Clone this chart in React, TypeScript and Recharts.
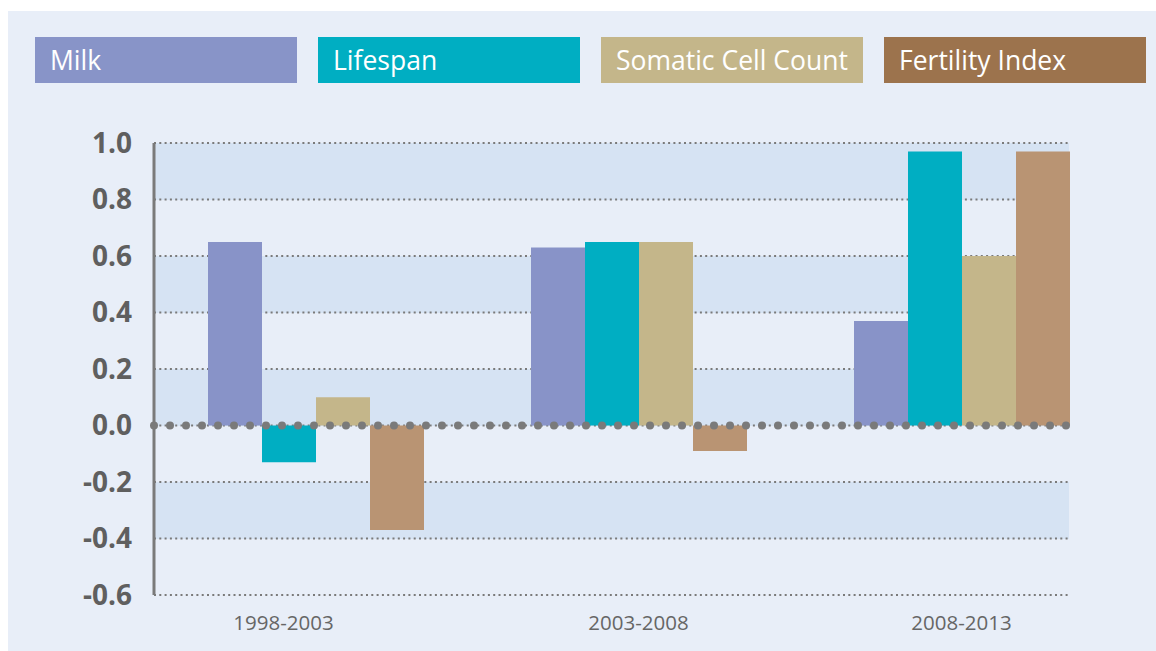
import React from 'react';
import { BarChart, Bar, XAxis, YAxis, CartesianGrid, ReferenceLine } from 'recharts';

const periods = ['1998-2003', '2003-2008', '2008-2013'];
const milk = [0.65, 0.63, 0.37];
const lifespan = [-0.13, 0.65, 0.97];
const somaticCellCount = [0.1, 0.65, 0.6];
const fertilityIndex = [-0.37, -0.09, 0.97];
const seriesNames = ['Milk', 'Lifespan', 'Somatic Cell Count', 'Fertility Index'];
const yTicks = [-0.6, -0.4, -0.2, 0, 0.2, 0.4, 0.6, 0.8, 1.0];

const barColors = ['#8893c8', '#00aec2', '#c4b68a', '#b99473'];
const legendColors = ['#8894c8', '#00aec2', '#c4b68a', '#9c734d'];
const keys = ['milk', 'lifespan', 'somatic', 'fertility'];

const data = periods.map((period, i) => ({
  period,
  milk: milk[i],
  lifespan: lifespan[i],
  somatic: somaticCellCount[i],
  fertility: fertilityIndex[i],
}));

const FONT = '"Open Sans", "Noto Sans", sans-serif';

// first label sits a bit left of its bar group in the original
const PeriodTick = (props: any) => {
  const { x, y, payload, index } = props;
  const shift = index === 0 ? -32 : 0;
  return (
    <text
      x={x + shift}
      y={y}
      dy={27}
      textAnchor="middle"
      fill="#666666"
      fontFamily={FONT}
      fontSize={20.5}
    >
      {payload.value}
    </text>
  );
};

export default function App() {
  return (
    <div
      style={{
        position: 'absolute',
        left: 8,
        top: 11,
        width: 1148,
        height: 640,
        background: '#e8eef8',
        fontFamily: FONT,
      }}
    >
      <div style={{ position: 'absolute', left: 27, top: 26, display: 'flex', gap: 21 }}>
        {seriesNames.map((name, i) => (
          <div
            key={name}
            style={{
              width: 262,
              height: 46,
              lineHeight: '46px',
              background: legendColors[i],
              color: '#ffffff',
              fontSize: 26.5,
              paddingLeft: 15,
              boxSizing: 'border-box',
            }}
          >
            {name}
          </div>
        ))}
      </div>
      <BarChart
        width={1148}
        height={640}
        data={data}
        barGap={0}
        barSize={54}
        margin={{ top: 132, right: 87, bottom: 26, left: 0 }}
      >
        <CartesianGrid
          vertical={false}
          stroke="#7a7a7a"
          strokeWidth={2}
          strokeDasharray="2 3.3"
          horizontalFill={['#d6e3f3', '#e8eef8']}
        />
        <XAxis
          dataKey="period"
          height={30}
          axisLine={false}
          tickLine={false}
          padding={{ left: 0, right: -54 }}
          tick={<PeriodTick />}
          interval={0}
        />
        <YAxis
          width={146}
          domain={[-0.6, 1.0]}
          ticks={yTicks}
          tickFormatter={(v: number) => v.toFixed(1)}
          axisLine={{ stroke: '#7a7a7a', strokeWidth: 3 }}
          tickLine={false}
          tickSize={0}
          tickMargin={22}
          tick={{ fill: '#5f5f5f', fontSize: 28, fontWeight: 700, fontFamily: FONT }}
        />
        {keys.map((k, i) => (
          <Bar key={k} dataKey={k} name={seriesNames[i]} fill={barColors[i]} isAnimationActive={false} />
        ))}
        <ReferenceLine
          y={0}
          stroke="#7a7a7a"
          strokeWidth={8}
          strokeDasharray="0 16"
          strokeLinecap="round"
        />
      </BarChart>
    </div>
  );
}
